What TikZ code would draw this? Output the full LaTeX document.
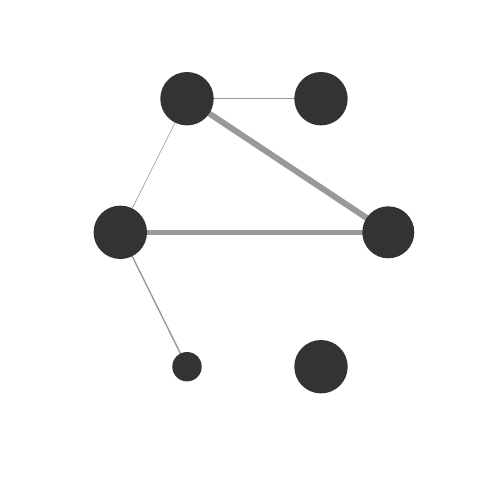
\documentclass[tikz,border=0pt]{standalone}
\usetikzlibrary{backgrounds}
\definecolor{nodefill}{HTML}{333333}
\definecolor{edgecol}{HTML}{999999}
\tikzset{
  vtx/.style={circle,fill=nodefill,draw=none,inner sep=0pt,minimum size=#1},
  edg/.style={draw=edgecol,line width=#1}
}
\begin{document}
\begin{tikzpicture}[x=1pt,y=-1pt]
\useasboundingbox (0,0) rectangle (480,480);
\node[vtx=53.4pt] (n1) at (187,98.7) {};
\node[vtx=53.4pt] (n2) at (321,98.7) {};
\node[vtx=53.4pt] (n3) at (120.3,232.3) {};
\node[vtx=52pt] (n4) at (388.3,232.3) {};
\node[vtx=29.4pt] (n5) at (187,366.7) {};
\node[vtx=53.4pt] (n6) at (321,366.7) {};
\begin{scope}[on background layer]
\fill[white] (0,0) rectangle (480,480);
\draw[edg=0.9] (n1.center) -- (n2.center);
\draw[edg=0.6] (n1.center) -- (n3.center);
\draw[edg=6] (n1.center) -- (n4.center);
\draw[edg=5] (n3.center) -- (n4.center);
\draw[edg=1.4] (n3.center) -- (n5.center);
\end{scope}
\end{tikzpicture}
\end{document}
